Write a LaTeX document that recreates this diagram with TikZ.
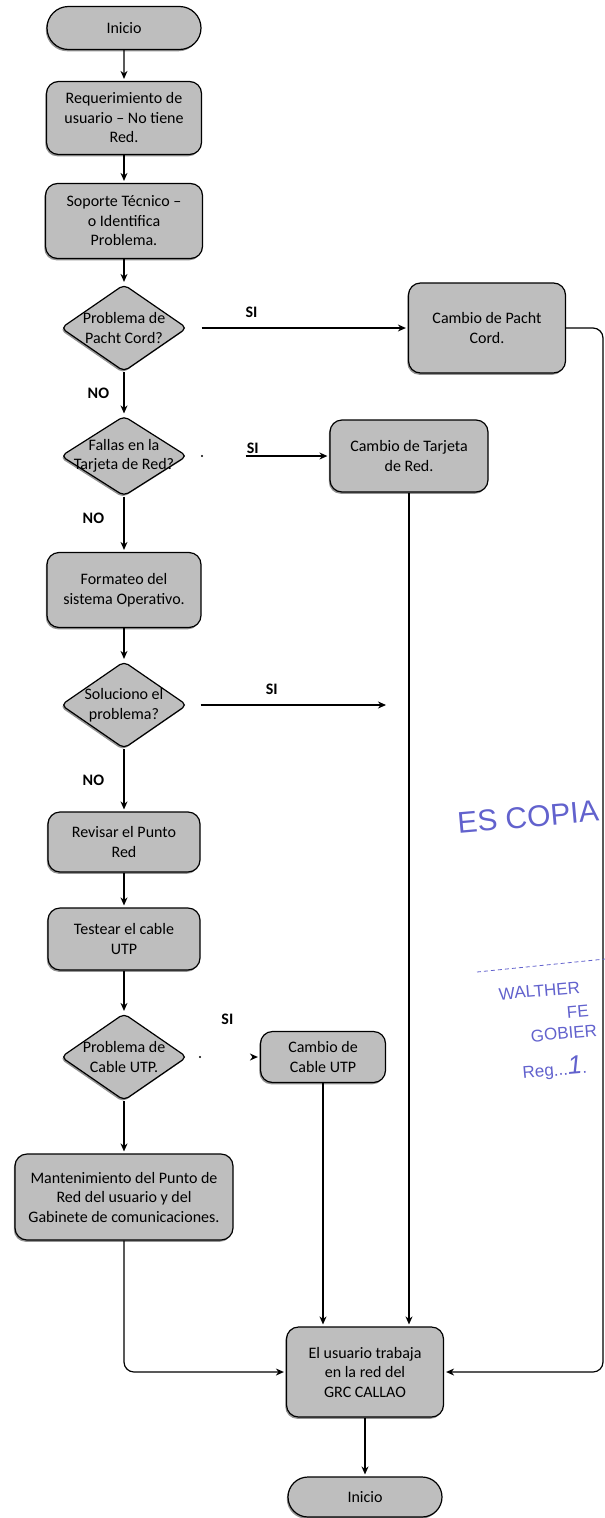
\documentclass[tikz,border=0pt]{standalone}
\usepackage{fontspec}
\setmainfont{Carlito}
\newfontfamily\stampfont{Liberation Sans}
\usepackage{tikz}
\usetikzlibrary{arrows.meta,shapes.geometric,shapes.misc,shadows}

\definecolor{boxgray}{RGB}{190,190,190}
\definecolor{stampblue}{RGB}{98,98,205}

\begin{document}
\begin{tikzpicture}[x=1pt, y=-1pt, line width=1.2pt, >={Stealth[length=8pt,width=7pt]},
    every node/.style={font=\fontsize{16pt}{19.5pt}\selectfont},
    base/.style={draw, fill=boxgray, drop shadow={shadow xshift=-1.2pt, shadow yshift=-1.8pt, fill=black!70, opacity=0.6}},
    process/.style={base, rectangle, rounded corners=12pt, align=center, inner sep=0pt},
    terminal/.style={base, rounded rectangle, minimum width=154pt, inner sep=0pt},
    decision/.style={base, diamond, rounded corners=5pt, inner sep=0pt, minimum width=126pt, minimum height=87pt},
    dtext/.style={align=center, inner sep=0pt},
    answer/.style={font=\fontsize{16pt}{16pt}\selectfont\bfseries},
    flow/.style={->, shorten >=2pt},
    stamp/.style={text=stampblue, inner sep=1pt, font=\stampfont\fontsize{17pt}{17pt}\selectfont}]
\useasboundingbox (0,0) rectangle (605,1518);

\node[terminal, minimum height=43pt] (t_0) at (124,28) {Inicio};
\node[process, minimum width=155pt, minimum height=73pt] (p_1) [below of = t_0, node distance = 90pt] {Requerimiento de\\usuario -- No tiene\\Red.};
\node[process, minimum width=157pt, minimum height=75pt] (p_2) [below of = p_1, node distance = 103pt] {Soporte Técnico --\\o Identifica\\Problema.};
\node[decision, label={[dtext]center:{Problema de\\Pacht Cord?}}] (d_1) [below of = p_2, node distance = 107pt] {};
\node[process, minimum width=157pt, minimum height=90pt] (p_3) [right of = d_1, node distance = 363pt] {Cambio de Pacht\\Cord.};
\node[decision, minimum height=80pt, label={[dtext]center:{Fallas en la\\Tarjeta de Red?}}] (d_2) [below of = d_1, node distance = 128pt] {};
\node[process, minimum width=158pt, minimum height=72pt] (p_4) [right of = d_2, node distance = 285pt] {Cambio de Tarjeta\\de Red.};
\node[process, minimum width=154pt, minimum height=75pt] (p_5) [below of = d_2, node distance = 134pt] {Formateo del\\sistema Operativo.};
\node[decision, label={[dtext]center:{Soluciono el\\problema?}}] (d_3) [below of = p_5, node distance = 115pt] {};
\node[process, minimum width=152pt, minimum height=60pt] (p_6) [below of = d_3, node distance = 137pt] {Revisar el Punto\\Red};
\node[process, minimum width=152pt, minimum height=62pt] (p_7) [below of = p_6, node distance = 97pt] {Testear el cable\\UTP};
\node[decision, label={[dtext]center:{Problema de\\Cable UTP.}}] (d_4) [below of = p_7, node distance = 118pt] {};
\node[process, minimum width=125pt, minimum height=51pt] (p_8) [right of = d_4, node distance = 199pt] {Cambio de\\Cable UTP};
\node[process, minimum width=218pt, minimum height=86pt] (p_9) [below of = d_4, node distance = 140pt] {Mantenimiento del Punto de\\Red del usuario y del\\Gabinete de comunicaciones.};
\node[process, minimum width=157pt, minimum height=90pt] (p_10) at (365,1372) {El usuario trabaja\\en la red del\\GRC CALLAO};
\node[terminal, minimum height=40pt] (t_1) [below of = p_10, node distance = 125pt] {Inicio};

\coordinate (c_1) at (388,705);
\coordinate (rail) at (603,0);

\path[flow] (t_0) edge (p_1)
    (p_1) edge (p_2)
    (p_2) edge (d_1)
    (d_1) edge [shorten <=14pt] node [answer, above=6pt, pos=0.29] {SI} (p_3)
    (d_1) edge node [answer, left=11pt] {NO} (d_2)
    (d_2) edge [shorten <=58pt] node [answer, above, inner sep=2pt, pos=0.46] {SI} (p_4)
    (d_2) edge node [answer, left=16pt, pos=0.39] {NO} (p_5)
    (p_5) edge (d_3)
    (d_3) edge [shorten <=13pt] node [answer, above=6pt, pos=0.42] {SI} (c_1)
    (d_3) edge node [answer, left=16pt] {NO} (p_6)
    (p_6) edge (p_7)
    (p_7) edge (d_4)
    (d_4) edge [shorten <=64pt] node [answer, above=28pt, pos=0.55] {SI} (p_8)
    (d_4) edge (p_9)
    (p_4) edge (p_4 |- p_10.north)
    (p_8) edge (p_8 |- p_10.north)
    (p_10) edge (t_1);
\draw[flow, rounded corners=10pt] (p_9) |- (p_10);
\draw[flow, rounded corners=10pt] (p_3) -- (p_3 -| rail) |- (p_10);
\fill (202,456) circle (1.2pt);
\fill (200,1057) circle (1.2pt);

% sello
\node[stamp, font=\stampfont\fontsize{30pt}{30pt}\selectfont, rotate=5] (s_0) at (528,817) {ES~COPIA};
\draw[stampblue, line width=0.8pt, dash pattern=on 4pt off 3pt] (477,972) -- (615,958);
\node[stamp, rotate=5, anchor=south west] (s_1) at (498,1002) {WALTHER};
\node[stamp, rotate=5, anchor=south west] (s_2) at (566,1020) {FE};
\node[stamp, rotate=5, anchor=south west] (s_3) at (530,1044) {GOBIER};
\node[stamp, rotate=5, anchor=south west] (s_4) at (522,1084) {Reg...{\itshape\fontsize{26pt}{26pt}\selectfont 1}.};
\end{tikzpicture}
\end{document}
